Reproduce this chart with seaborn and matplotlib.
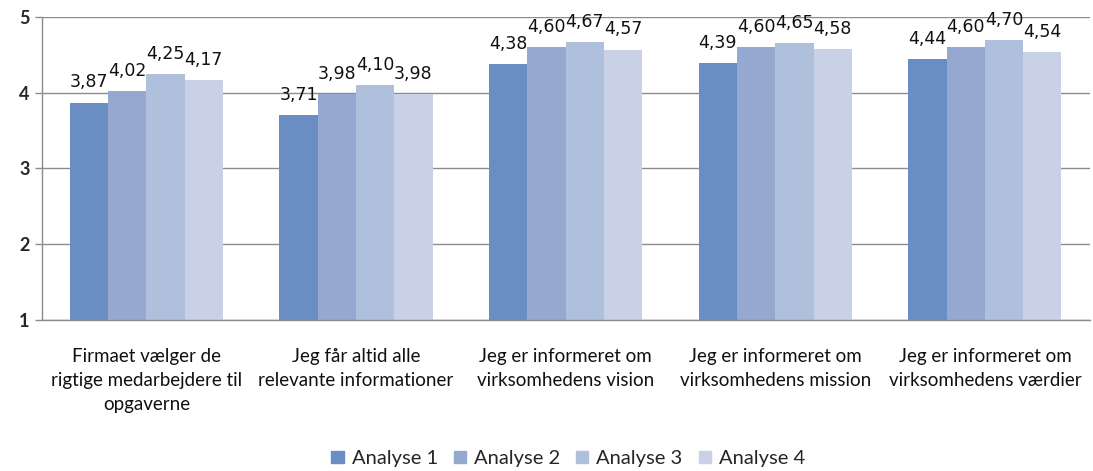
import matplotlib
matplotlib.use("Agg")
import matplotlib.pyplot as plt
import pandas as pd
import seaborn as sns

# data
categories = [
    "Firmaet vælger de\nrigtige medarbejdere til\nopgaverne",
    "Jeg får altid alle\nrelevante informationer",
    "Jeg er informeret om\nvirksomhedens vision",
    "Jeg er informeret om\nvirksomhedens mission",
    "Jeg er informeret om\nvirksomhedens værdier",
]
series = ["Analyse 1", "Analyse 2", "Analyse 3", "Analyse 4"]
analyse1 = [3.87, 3.71, 4.38, 4.39, 4.44]
analyse2 = [4.02, 3.98, 4.60, 4.60, 4.60]
analyse3 = [4.25, 4.10, 4.67, 4.65, 4.70]
analyse4 = [4.17, 3.98, 4.57, 4.58, 4.54]
colors = ["#6A8EC3", "#95A8D0", "#AFC0DC", "#C8D1E5"]

rows = []
for name, vals in zip(series, [analyse1, analyse2, analyse3, analyse4]):
    for cat, v in zip(categories, vals):
        rows.append({"kategori": cat, "serie": name, "værdi": v})
df = pd.DataFrame(rows)

sns.set_style("white")
plt.rcParams["font.family"] = ["Lato", "DejaVu Sans"]

fig = plt.figure(figsize=(10.93, 4.71), dpi=100)
ax = fig.add_axes([0.038, 0.321, 0.959, 0.643])

sns.barplot(data=df, x="kategori", y="værdi", hue="serie", palette=colors,
            width=0.73, gap=0, ax=ax, legend=False, saturation=1,
            linewidth=0, bottom=0)

ax.set_ylim(1, 5)
ax.set_yticks([1, 2, 3, 4, 5])
ax.set_yticklabels(["1", "2", "3", "4", "5"], fontsize=13, fontweight="bold")
ax.yaxis.grid(True, color="#8c8c8c", linewidth=1)
ax.set_axisbelow(True)
ax.set_xlabel("")
ax.set_ylabel("")
ax.set_xlim(-0.5, 4.5)
ax.set_xticks(range(len(categories)))
ax.set_xticklabels(categories, fontsize=13.5, color="#111111", linespacing=1.5)
ax.tick_params(axis="x", length=0, pad=20)
ax.set_xticks([i + 0.5 for i in range(-1, 5)], minor=True)
ax.tick_params(axis="x", which="minor", length=6, color="#8c8c8c", width=1)
ax.tick_params(axis="y", length=5, color="#8c8c8c", width=1, left=True)
for s in ["top", "right"]:
    ax.spines[s].set_visible(False)
for s in ["left", "bottom"]:
    ax.spines[s].set_color("#8c8c8c")
    ax.spines[s].set_linewidth(1)

for cont in ax.containers:
    labels = [f"{b.get_height():.2f}".replace(".", ",") for b in cont]
    ax.bar_label(cont, labels=labels, padding=8, fontsize=12.5,
                 family="DejaVu Sans", color="#111111")

handles = [plt.Rectangle((0, 0), 1, 1, color=c) for c in colors]
fig.legend(handles, series, loc="lower center", ncol=4, frameon=False,
           fontsize=14.5, bbox_to_anchor=(0.52, -0.03), handlelength=0.6,
           handleheight=0.6, handletextpad=0.4, columnspacing=0.8)

fig.savefig("out.png", dpi=100)
